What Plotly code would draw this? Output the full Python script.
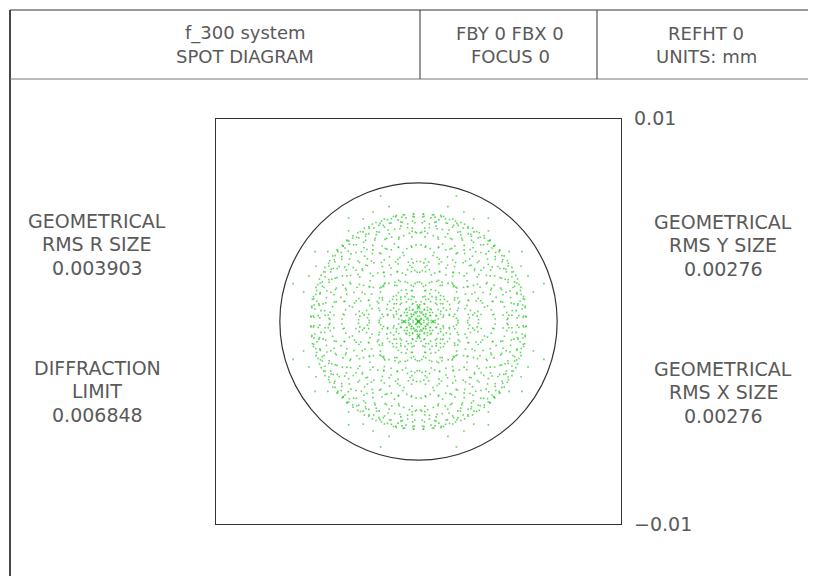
import numpy as np
import plotly.graph_objects as go

W, H = 816, 576
OFF = 8  # default page margin of the written html

# ---- data ----
header_left = ["f_300 system", "SPOT DIAGRAM"]
header_mid = ["FBY 0 FBX 0", "FOCUS 0"]
header_right = ["REFHT 0", "UNITS: mm"]
left_block1 = ["GEOMETRICAL", "RMS R SIZE", "0.003903"]
left_block2 = ["DIFFRACTION", "LIMIT", "0.006848"]
right_block1 = ["GEOMETRICAL", "RMS Y SIZE", "0.00276"]
right_block2 = ["GEOMETRICAL", "RMS X SIZE", "0.00276"]
axis_ticks = [0.01, -0.01]
axis_tick_labels = ["0.01", "\u22120.01"]
diffraction_limit = 0.006848          # mm, radius of the drawn circle
spot_scale = 0.00656                  # mm, marginal-ray transverse aberration
pupil_samples = 46                    # rays across the pupil diameter (square grid)
defocus_coef = -2.5                   # linear (defocus) term of the ray aberration
spherical_coef = 3.5                  # third-order spherical term

# ---- ray trace (square pupil grid -> image plane) ----
u = np.linspace(-1, 1, pupil_samples)
px, py = np.meshgrid(u, u)
rho = np.hypot(px, py)
inside = rho <= 1.0
px, py, rho = px[inside], py[inside], rho[inside]
radial = defocus_coef + spherical_coef * rho ** 2     # h(rho)/rho
sx = spot_scale * px * radial
sy = spot_scale * py * radial

fig = go.Figure()
fig.add_trace(go.Scatter(
    x=sx, y=sy, mode="markers",
    marker=dict(symbol="square", size=1.6, color="#2bc82b", opacity=0.75, line=dict(width=0)),
    hoverinfo="skip", showlegend=False))

# plot box geometry (pixels in the window)
bx0, bx1, by0, by1 = 216, 621, 119, 524


def px2x(x):
    return (x - OFF) / W


def px2y(y):
    return 1 - (y - OFF) / H


fig.update_layout(
    width=W, height=H, margin=dict(l=0, r=0, t=0, b=0),
    paper_bgcolor="white", plot_bgcolor="white",
    xaxis=dict(range=[-0.01, 0.01], domain=[px2x(bx0), px2x(bx1)],
               showgrid=False, zeroline=False, showticklabels=False, ticks="",
               showline=True, mirror=True, linecolor="#333", linewidth=1,
               fixedrange=True),
    yaxis=dict(range=[-0.01, 0.01], domain=[px2y(by1), px2y(by0)],
               showgrid=False, zeroline=False, showticklabels=False, ticks="",
               showline=True, mirror=True, linecolor="#333", linewidth=1,
               fixedrange=True),
)

line_col = "#333"
shapes = [
    dict(type="circle", xref="x", yref="y",
         x0=-diffraction_limit, x1=diffraction_limit,
         y0=-diffraction_limit, y1=diffraction_limit,
         line=dict(color=line_col, width=1.2)),
    dict(type="line", xref="paper", yref="paper", x0=px2x(10), x1=px2x(10),
         y0=px2y(10), y1=px2y(H + 20), line=dict(color=line_col, width=1.8)),
    dict(type="line", xref="paper", yref="paper", x0=px2x(10), x1=px2x(W + 20),
         y0=px2y(10), y1=px2y(10), line=dict(color=line_col, width=1)),
    dict(type="line", xref="paper", yref="paper", x0=px2x(10), x1=px2x(W + 20),
         y0=px2y(79), y1=px2y(79), line=dict(color="#777", width=1)),
    dict(type="line", xref="paper", yref="paper", x0=px2x(420), x1=px2x(420),
         y0=px2y(10), y1=px2y(79), line=dict(color=line_col, width=1)),
    dict(type="line", xref="paper", yref="paper", x0=px2x(597), x1=px2x(597),
         y0=px2y(10), y1=px2y(79), line=dict(color=line_col, width=1)),
]
fig.update_layout(shapes=shapes)

font_head = dict(family="DejaVu Sans", size=18, color="#5a5a5a")
font_side = dict(family="DejaVu Sans", size=19, color="#5a5a5a")
ann = []


def add_lines(lines, cx, ys, font):
    for t, y in zip(lines, ys):
        ann.append(dict(text=t, x=px2x(cx), y=px2y(y), xref="paper", yref="paper",
                        xanchor="center", yanchor="middle", showarrow=False, font=font))


add_lines(header_left, 245, [33, 57], font_head)
add_lines(header_mid, 510, [33, 57], font_head)
add_lines(header_right, 706, [33, 57], font_head)
add_lines(left_block1, 97, [221, 244, 268], font_side)
add_lines(left_block2, 97, [368, 391, 415], font_side)
add_lines(right_block1, 723, [222, 245, 269], font_side)
add_lines(right_block2, 723, [369, 392, 416], font_side)

for v, lab in zip(axis_ticks, axis_tick_labels):
    ann.append(dict(text=lab, x=1.0, y=v, xref="x domain", yref="y",
                    xanchor="left", yanchor="middle", xshift=11,
                    yshift=1 if v > 0 else 0,
                    showarrow=False, font=font_side))

fig.update_layout(annotations=ann)
fig.write_html("out.html")
